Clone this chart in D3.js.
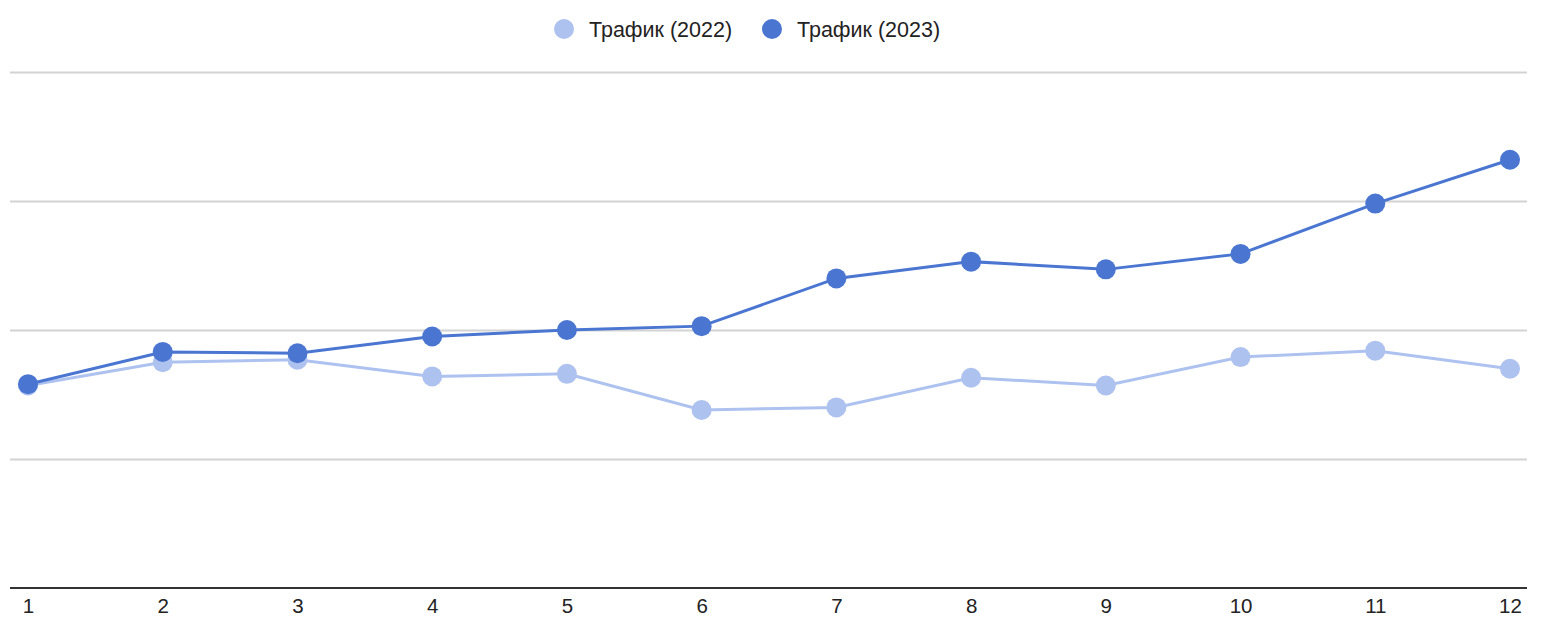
<!DOCTYPE html>
<html>
<head>
<meta charset="utf-8">
<script src="https://cdn.jsdelivr.net/npm/d3@7"></script>
<style>
  body { margin: 0; background: #fff; }
  text { font-family: "Liberation Sans", Arial, sans-serif; }
</style>
</head>
<body>
<div id="chart"></div>
<script>
var months = [1, 2, 3, 4, 5, 6, 7, 8, 9, 10, 11, 12];
var traffic2022 = [1.57, 1.75, 1.77, 1.64, 1.66, 1.38, 1.40, 1.63, 1.57, 1.79, 1.84, 1.70];
var traffic2023 = [1.58, 1.83, 1.82, 1.95, 2.00, 2.03, 2.40, 2.53, 2.47, 2.59, 2.98, 3.32];
var gridTicks = [0, 1, 2, 3, 4];
var seriesNames = ["Трафик (2022)", "Трафик (2023)"];
var seriesColors = ["#aec2f0", "#4a76d1"];

var width = 1553, height = 639;

var svg = d3.select("#chart").append("svg")
    .attr("width", width)
    .attr("height", height);

var x = d3.scalePoint()
    .domain(months)
    .range([28, 1510]);

var y = d3.scaleLinear()
    .domain([0, 4])
    .range([588, 72]);

// gridlines
svg.append("g")
    .selectAll("line")
    .data(gridTicks.slice(1))
    .enter().append("line")
    .attr("x1", 10)
    .attr("x2", 1527)
    .attr("y1", function (d) { return y(d) + 0.5; })
    .attr("y2", function (d) { return y(d) + 0.5; })
    .style("stroke", "#d3d3d3")
    .style("stroke-width", 2);

// x axis
var axisX = svg.append("g")
    .attr("transform", "translate(0," + y(0) + ")")
    .call(d3.axisBottom(x).tickSize(0).tickPadding(10));

axisX.select(".domain")
    .attr("d", "M10,0H1527")
    .style("stroke", "#333")
    .style("stroke-width", 2);

axisX.selectAll("text")
    .style("fill", "#222")
    .attr("font-size", "20.5px");

var line = d3.line()
    .x(function (d, i) { return x(months[i]); })
    .y(function (d) { return y(d); });

var series = [traffic2022, traffic2023];

series.forEach(function (vals, k) {
    var g = svg.append("g");
    g.append("path")
        .datum(vals)
        .attr("d", line)
        .style("fill", "none")
        .style("stroke", seriesColors[k])
        .style("stroke-width", 3);
    g.selectAll("circle")
        .data(vals)
        .enter().append("circle")
        .attr("cx", function (d, i) { return x(months[i]); })
        .attr("cy", function (d) { return y(d); })
        .attr("r", 10)
        .style("fill", seriesColors[k]);
});

// legend
var legendX = [564, 772];
var legend = svg.append("g")
    .selectAll("g")
    .data(seriesNames)
    .enter().append("g")
    .attr("transform", function (d, i) { return "translate(" + legendX[i] + ",29)"; });

legend.append("circle")
    .attr("r", 10)
    .style("fill", function (d, i) { return seriesColors[i]; });

legend.append("text")
    .attr("x", 25)
    .attr("dy", "0.35em")
    .attr("font-size", "21.5px")
    .style("fill", "#222")
    .text(function (d) { return d; });
</script>
</body>
</html>
